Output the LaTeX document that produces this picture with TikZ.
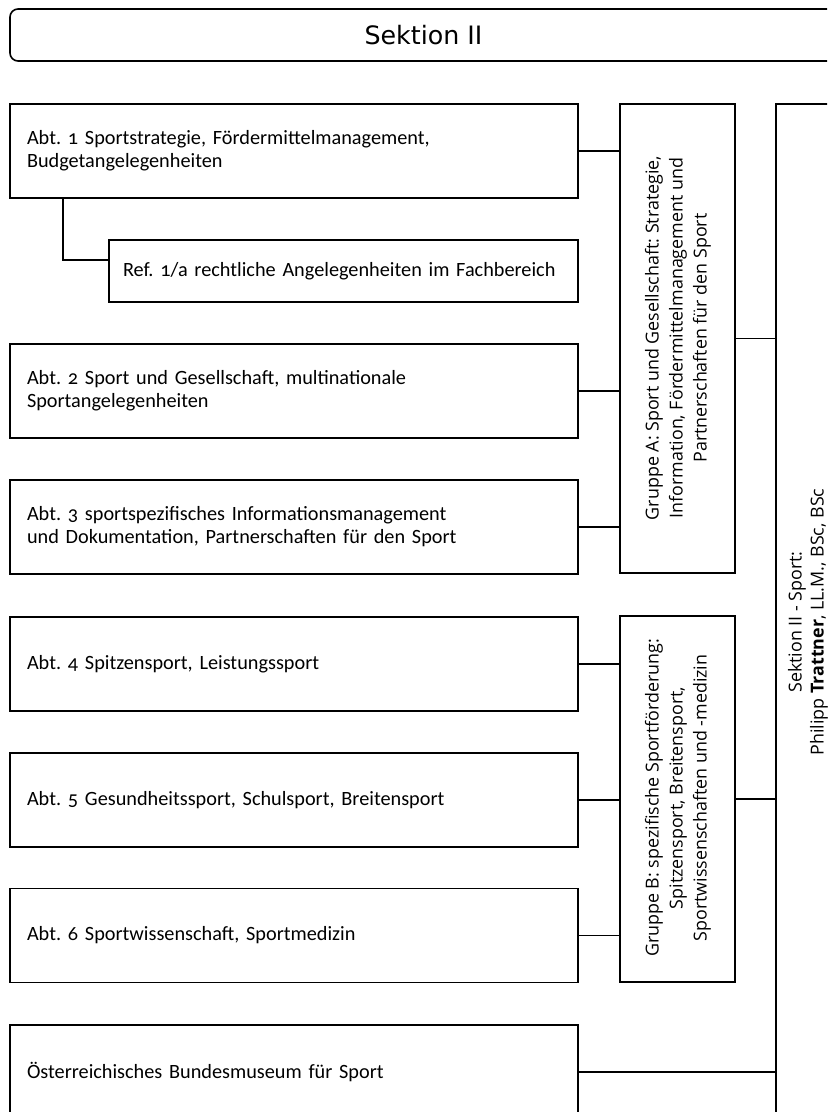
\documentclass[tikz,border=0pt]{standalone}
\usepackage{fontspec}
\setmainfont{Carlito}[Numbers=OldStyle]
\newfontfamily\grpfont{Open Sans}
\newfontfamily\hdrfont{DejaVu Sans}
\frenchspacing
\usetikzlibrary{calc}
\tikzset{
  box/.style={draw, line width=1.2pt, rectangle, inner sep=0pt},
  abtbox/.style={box, minimum width=426pt, minimum height=70.5pt, inner xsep=12.75pt,
     text width=400.5pt, align=left, font=\fontsize{15.2}{17.25}\selectfont},
  grpbox/.style={box, minimum width=86.25pt},
  grptext/.style={rotate=90, align=center, font=\grpfont\fontsize{13.4}{18}\selectfont},
  conn/.style={line width=1.1pt},
}
\begin{document}
\begin{tikzpicture}[x=0.75pt,y=-0.75pt]
\useasboundingbox (0,0) rectangle (827,1112);
\clip (0,0) rectangle (827,1112);
% header
\node[box, rounded corners=6pt, minimum width=626.25pt, minimum height=39pt,
      font=\hdrfont\fontsize{19}{22}\selectfont] (hdr) at (427.5,35) {\hspace{-6pt}Sektion II};
% department boxes
\node[abtbox] (abt1) at (294,151) {Abt. 1 Sportstrategie, Fördermittelmanagement,\\Budgetangelegenheiten};
\node[abtbox, minimum width=351.75pt, minimum height=46.5pt, inner xsep=10.5pt, text width=330.75pt] (ref) at (343.5,271) {Ref. 1/a rechtliche Angelegenheiten im Fachbereich};
\node[abtbox] (abt2) at (294,391) {Abt. 2 Sport und Gesellschaft, multinationale\\Sportangelegenheiten};
\node[abtbox] (abt3) at (294,527) {Abt. 3 sportspezifisches Informationsmanagement\\und Dokumentation, Partnerschaften für den Sport};
\node[abtbox] (abt4) at (294,664) {Abt. 4 Spitzensport, Leistungssport};
\node[abtbox] (abt5) at (294,800) {Abt. 5 Gesundheitssport, Schulsport, Breitensport};
\node[abtbox] (abt6) at (294,935.5) {Abt. 6 Sportwissenschaft, Sportmedizin};
\node[abtbox] (mus) at (294,1072) {Österreichisches Bundesmuseum für Sport};
% group boxes
\node[grpbox, minimum height=351.75pt] (grpA) at (677.5,338.5) {};
\node[grptext] (grpAtext) at (678,338) {Gruppe A: Sport und Gesellschaft: Strategie,\\Information, Fördermittelmanagement und\\Partnerschaften für den Sport};
\node[grpbox, minimum height=274.5pt] (grpB) at (677.5,799) {};
\node[grptext] (grpBtext) at (678,798) {Gruppe B: spezifische Sportförderung:\\Spitzensport, Breitensport,\\Sportwissenschaften und -medizin};
% section box
\node[box, minimum width=46.5pt, minimum height=765.75pt] (sek) at (807,614.5) {};
\node[grptext, font=\grpfont\fontsize{13.4}{16.5}\selectfont] (sektext) at (808,622) {Sektion II - Sport:\\Philipp \textbf{Trattner}, LL.M., BSc, BSc};
% connectors
\coordinate (refjoin) at ($(ref.north west)+(0,21)$);
\draw[conn] ($(abt1.south west)+(54,0)$) |- (refjoin);
\foreach \n in {abt1,abt2,abt3}{\draw[conn] (\n.east) -- (\n.east -| grpA.west);}
\foreach \n in {abt4,abt5,abt6}{\draw[conn] (\n.east) -- (\n.east -| grpB.west);}
\draw[conn] (grpA.east) -- (grpA.east -| sek.west);
\draw[conn] (grpB.east) -- (grpB.east -| sek.west);
\draw[conn] (mus.east) -- (mus.east -| sek.west);
\end{tikzpicture}
\end{document}
